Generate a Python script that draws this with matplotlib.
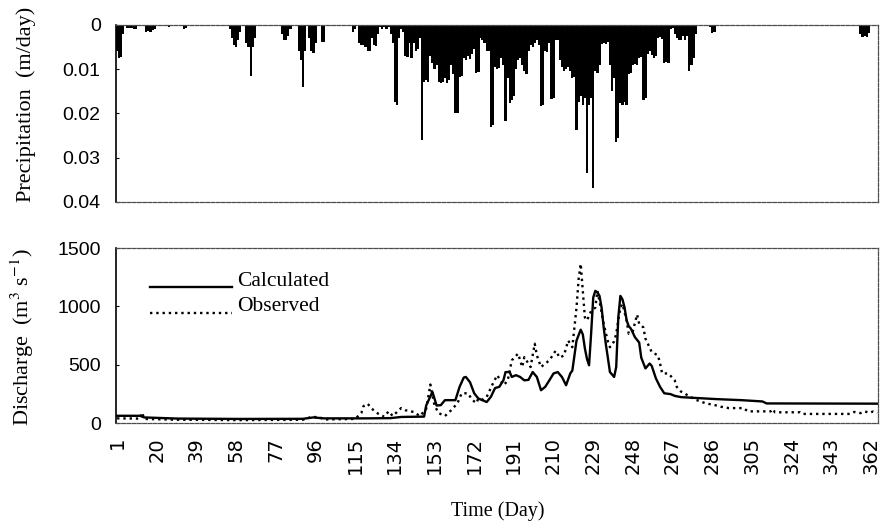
import matplotlib.pyplot as plt
from matplotlib.legend_handler import HandlerLine2D

plt.rcParams['font.family'] = 'Liberation Serif'
plt.rcParams['mathtext.fontset'] = 'stix'

# daily precipitation (m/day) outside the wet season
dry_days = [1, 2, 3, 4, 6, 7, 8, 9, 10, 15,
            16, 17, 18, 19, 26, 33, 34, 55, 56, 57,
            58, 59, 60, 63, 64, 65, 66, 67, 80, 81,
            82, 83, 84, 88, 89, 90, 91, 93, 94, 95,
            96, 99, 100, 114, 115, 117, 118, 119, 120, 121,
            122, 123, 124, 125, 126, 127, 285, 286, 287, 357,
            358, 359, 360, 361]
dry_rain = [0.006, 0.0075, 0.0072, 0.002, 0.0007, 0.0008, 0.0006, 0.001, 0.0009, 0.0015,
            0.0014, 0.0015, 0.0012, 0.001, 0.0005, 0.001, 0.0008, 0.001, 0.003, 0.0045,
            0.005, 0.0035, 0.0015, 0.004, 0.005, 0.0115, 0.005, 0.003, 0.002, 0.0035,
            0.0034, 0.0025, 0.001, 0.006, 0.008, 0.014, 0.006, 0.003, 0.006, 0.0063,
            0.004, 0.0038, 0.0038, 0.0016, 0.001, 0.004, 0.0045, 0.0045, 0.005, 0.006,
            0.0058, 0.003, 0.0045, 0.0047, 0.002, 0.0005, 0.0004, 0.0018, 0.0015, 0.002,
            0.0028, 0.0025, 0.0028, 0.0018]

# wet season, one value per day from day 128 to day 278
wet_start = 128
wet_rain = [0.001, 0.0005, 0.001, 0.0005, 0.002, 0.004, 0.0175, 0.018, 0.003, 0.001,
            0.0015, 0.007, 0.0072, 0.004, 0.0075, 0.004, 0.006, 0.0055, 0.003, 0.026,
            0.0128, 0.0125, 0.0128, 0.007, 0.0085, 0.01, 0.009, 0.013, 0.0132, 0.013,
            0.012, 0.0132, 0.0125, 0.009, 0.011, 0.0198, 0.02, 0.0118, 0.0115, 0.0075,
            0.008, 0.007, 0.0078, 0.0065, 0.0055, 0.0108, 0.0106, 0.003, 0.0035, 0.004,
            0.006, 0.0058, 0.023, 0.0225, 0.0095, 0.01, 0.0098, 0.0075, 0.009, 0.0218,
            0.012, 0.0177, 0.017, 0.016, 0.01, 0.008, 0.0075, 0.009, 0.0105, 0.011,
            0.006, 0.0045, 0.005, 0.004, 0.0035, 0.0045, 0.0183, 0.018, 0.006, 0.0062,
            0.004, 0.0168, 0.0165, 0.0034, 0.0034, 0.008, 0.0095, 0.0105, 0.01, 0.0095,
            0.0105, 0.012, 0.0118, 0.0237, 0.0175, 0.016, 0.018, 0.0165, 0.0335, 0.018,
            0.0165, 0.0369, 0.0105, 0.0108, 0.009, 0.0042, 0.004, 0.0042, 0.0038, 0.009,
            0.015, 0.012, 0.0264, 0.0255, 0.0177, 0.018, 0.0175, 0.018, 0.011, 0.0108,
            0.009, 0.0088, 0.009, 0.0075, 0.0072, 0.017, 0.0165, 0.0065, 0.006, 0.0068,
            0.0075, 0.007, 0.003, 0.0028, 0.0032, 0.0086, 0.0084, 0.0085, 0.001, 0.0008,
            0.002, 0.003, 0.0034, 0.0034, 0.0026, 0.0034, 0.0026, 0.0105, 0.009, 0.0075,
            0.002]

# discharge (m3/s)
calc_day = [1, 12, 14, 30, 60, 90, 95, 100, 120, 132,
            137, 148, 149, 152, 154, 156, 158, 163, 165, 167,
            168, 170, 172, 174, 178, 180, 182, 184, 186, 187,
            189, 190, 192, 194, 196, 198, 200, 202, 204, 206,
            208, 210, 212, 214, 216, 218, 219, 221, 223, 224,
            225, 226, 227, 228, 229, 230, 231, 232, 233, 234,
            235, 236, 237, 239, 240, 241, 242, 243, 244, 245,
            246, 247, 249, 251, 252, 254, 256, 257, 259, 261,
            263, 266, 268, 271, 275, 280, 288, 300, 310, 312,
            365]
calc_q = [62, 62, 48, 38, 35, 36, 48, 40, 40, 42,
          52, 55, 150, 267, 150, 153, 196, 196, 310, 390,
          395, 350, 255, 210, 180, 225, 300, 310, 366, 437,
          437, 395, 410, 395, 366, 370, 437, 395, 281, 310,
          366, 425, 437, 395, 324, 425, 450, 707, 800, 760,
          640, 550, 495, 770, 1076, 1133, 1120, 1090, 990, 820,
          680, 560, 437, 395, 480, 905, 1090, 1060, 990, 880,
          830, 810, 735, 690, 560, 468, 510, 490, 383, 310,
          255, 248, 233, 222, 218, 213, 205, 196, 185, 168,
          166]

obs_day = [1, 12, 13, 14, 30, 60, 90, 94, 98, 100,
           115, 118, 119, 121, 123, 126, 129, 131, 133, 137,
           139, 143, 146, 149, 151, 153, 155, 158, 161, 164,
           166, 169, 171, 173, 174, 176, 178, 181, 183, 186,
           188, 190, 193, 195, 196, 199, 201, 202, 204, 206,
           208, 211, 213, 215, 217, 219, 220, 221, 222, 223,
           224, 225, 226, 228, 230, 231, 233, 234, 236, 237,
           239, 240, 242, 243, 245, 246, 248, 250, 251, 253,
           254, 257, 260, 261, 262, 265, 268, 269, 271, 274,
           278, 283, 287, 290, 294, 301, 303, 314, 315, 316,
           328, 329, 352, 354, 357, 359, 361, 363, 365]
obs_q = [40, 38, 90, 35, 28, 25, 28, 52, 50, 30,
         35, 88, 145, 165, 122, 80, 54, 100, 60, 128,
         110, 95, 60, 120, 330, 150, 85, 60, 110, 170,
         255, 255, 200, 170, 210, 200, 225, 340, 410, 325,
         360, 537, 595, 480, 565, 480, 680, 580, 480, 510,
         537, 620, 560, 580, 707, 650, 820, 990, 1235, 1365,
         1133, 905, 880, 960, 990, 1133, 950, 850, 700, 650,
         700, 765, 990, 1020, 877, 765, 790, 930, 850, 820,
         724, 608, 580, 510, 425, 425, 366, 310, 270, 240,
         200, 168, 155, 140, 128, 128, 100, 100, 120, 92,
         92, 78, 78, 95, 85, 100, 88, 98, 85]

day_ticks = [1, 20, 39, 58, 77, 96, 115, 134, 153, 172,
             191, 210, 229, 248, 267, 286, 305, 324, 343, 362]
rain_ticks = [0, 0.01, 0.02, 0.03, 0.04]
rain_labels = ['0', '0.01', '0.02', '0.03', '0.04']
q_ticks = [0, 500, 1000, 1500]


class BaselineLine(HandlerLine2D):
    # put the legend sample line at the text baseline, like the original
    def create_artists(self, legend, orig_handle, xdescent, ydescent,
                       width, height, fontsize, trans):
        arts = super().create_artists(legend, orig_handle, xdescent, ydescent,
                                      width, height, fontsize, trans)
        for a in arts:
            a.set_ydata([y - 0.6 * height for y in a.get_ydata()])
        return arts


def frame(ax):
    for side in ['top', 'right', 'bottom']:
        ax.spines[side].set_color('0.3')
        ax.spines[side].set_linewidth(0.9)
        ax.spines[side].set_linestyle((0, (3, 1.2)))
    ax.spines['left'].set_color('black')
    ax.spines['left'].set_linewidth(1.2)


rain_day = dry_days + list(range(wet_start, wet_start + len(wet_rain)))
rain = dry_rain + wet_rain

fig = plt.figure(figsize=(8.81, 5.27), dpi=100)
ax1 = fig.add_axes([0.1317, 0.6167, 0.865, 0.336])
ax2 = fig.add_axes([0.1317, 0.1973, 0.865, 0.332])

# top: precipitation hanging from the top
ax1.bar(rain_day, rain, width=1.1, color='black', linewidth=0)
ax1.set_xlim(0.5, 365.4)
ax1.set_ylim(0.04, 0)
ax1.set_xticks(day_ticks)
ax1.tick_params(axis='x', length=0, labelbottom=False)
ax1.set_yticks(rain_ticks)
ax1.set_yticklabels(rain_labels, fontfamily='Liberation Sans', fontsize=14)
ax1.tick_params(axis='y', length=2, direction='in', pad=11)
ax1.set_ylabel('Precipitation  (m/day)', fontsize=16)
ax1.yaxis.set_label_coords(-0.105, 0.55)
frame(ax1)

# bottom: discharge
ax2.plot(calc_day, calc_q, color='black', linewidth=1.7, label='Calculated')
ax2.plot(obs_day, obs_q, color='black', linewidth=1.7, linestyle=':',
         label='Observed')
ax2.set_xlim(0.5, 365.4)
ax2.set_ylim(0, 1500)
ax2.set_xticks(day_ticks)
ax2.set_xticklabels([str(d) for d in day_ticks], rotation=90,
                    fontfamily='DejaVu Sans', fontsize=14)
ax2.tick_params(axis='x', length=0, pad=10)
ax2.set_yticks(q_ticks)
ax2.set_yticklabels([str(q) for q in q_ticks], fontfamily='Liberation Sans',
                    fontsize=14)
ax2.tick_params(axis='y', length=2, direction='in', pad=11)
ax2.set_ylabel(r'Discharge  (m$^{3}$ s$^{-1}$)', fontsize=16)
ax2.yaxis.set_label_coords(-0.105, 0.49)
ax2.set_xlabel('Time (Day)', fontsize=14.5)
ax2.xaxis.set_label_coords(0.501, -0.45)
frame(ax2)

ax2.legend(loc='upper left', bbox_to_anchor=(0.045, 0.87), frameon=False,
           fontsize=15.5, handlelength=3.8, handletextpad=0.25,
           labelspacing=0.25, borderpad=0, borderaxespad=0,
           handler_map={plt.Line2D: BaselineLine()})

fig.savefig('out.png', dpi=100)
plt.close(fig)
